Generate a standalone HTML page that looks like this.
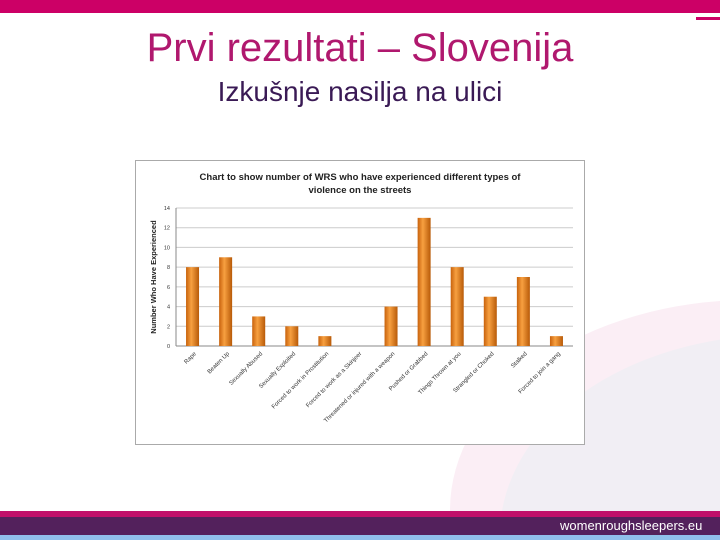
<!DOCTYPE html>
<html><head><meta charset="utf-8"><style>
html,body{margin:0;width:720px;height:540px;overflow:hidden}
body{position:relative;background:#fff;font-family:"Liberation Sans",sans-serif}
div{position:absolute}
</style></head><body>
<div style="left:0;top:0;width:720px;height:540px;overflow:hidden">
<div style="left:450px;top:300px;width:600px;height:420px;border-radius:50%;background:#fbeef5"></div>
<div style="left:500px;top:335px;width:560px;height:400px;border-radius:50%;background:#f1eef4"></div>
</div>
<div style="left:0;top:0;width:720px;height:13px;background:#cc0066"></div>
<div style="left:696px;top:17px;width:24px;height:3px;background:#cc0066"></div>
<div style="left:0;top:26px;width:720px;text-align:center;font-size:40px;color:#b0186e">Prvi rezultati – Slovenija</div>
<div style="left:0;top:76px;width:720px;text-align:center;font-size:28px;color:#3a1a55">Izkušnje nasilja na ulici</div>
<div style="left:0;top:511px;width:720px;height:6px;background:#c0106a"></div>
<div style="left:0;top:517px;width:720px;height:18px;background:#53215c"></div>
<div style="left:0;top:535px;width:720px;height:5px;background:#8fbfea"></div>
<div style="left:560px;top:517px;font-size:13px;line-height:18px;color:#fff">womenroughsleepers.eu</div>
<svg style="position:absolute;left:0;top:0" width="720" height="540">
<defs><linearGradient id="g" x1="0" x2="1"><stop offset="0" stop-color="#c8620c"/><stop offset="0.4" stop-color="#f7a040"/><stop offset="1" stop-color="#b85a08"/></linearGradient></defs>
<rect x="135.5" y="160.5" width="449" height="284" fill="#fff" stroke="#aaa"/>
<text x="360" y="180" text-anchor="middle" font-size="9.5" font-weight="bold" fill="#222">Chart to show number of WRS who have experienced different types of</text>
<text x="360" y="193" text-anchor="middle" font-size="9.5" font-weight="bold" fill="#222">violence on the streets</text>
<text transform="translate(156,277) rotate(-90)" text-anchor="middle" font-size="7.5" font-weight="bold" fill="#222">Number Who Have Experienced</text>
<g id="plot"></g>
</svg>
<script>
const categories=["Rape","Beaten Up","Sexually Abused","Sexually Exploited","Forced to work in Prostitution","Forced to work as a Skinjeer","Threatened or injured with a weapon","Pushed or Grabbed","Things Thrown at you","Strangled or Choked","Stalked","Forced to join a gang"];
const values=[8,9,3,2,1,0,4,13,8,5,7,1];
const yTicks=[0,2,4,6,8,10,12,14];
const NS="http://www.w3.org/2000/svg";
const g=document.getElementById('plot');
const x0=176,x1=573,yb=346,yt=208,ymax=14;
const y=v=>yb-(v/ymax)*(yb-yt);
const step=(x1-x0)/categories.length;
const xc=i=>x0+step*(i+0.5);
function mk(t,a){const e=document.createElementNS(NS,t);for(const k in a)e.setAttribute(k,a[k]);g.appendChild(e);return e;}
yTicks.forEach(t=>{
 const l=mk('line',{x1:x0,x2:x1,y1:y(t),y2:y(t),stroke:t===0?'#888':'#ccc','stroke-width':1});
 
 
 const tx=mk('text',{x:x0-6,y:y(t)+2,'text-anchor':'end','font-size':5.5,fill:'#333'});
 tx.textContent=t;
 
 
});
const ax=mk('line',{x1:x0,x2:x0,y1:yt,y2:yb,stroke:'#888'});


categories.forEach((c,i)=>{
 const v=values[i];
 if(v>0){
  const r=mk('rect',{x:xc(i)-6.5,y:y(v),width:13,height:yb-y(v),fill:'url(#g)'});
  
  
 }
 const t=mk('text',{transform:`translate(${xc(i)+4},${yb+8}) rotate(-45)`,'text-anchor':'end','font-size':6,fill:'#333'});
 t.textContent=c;
 
 
});
</script>
</body></html>
